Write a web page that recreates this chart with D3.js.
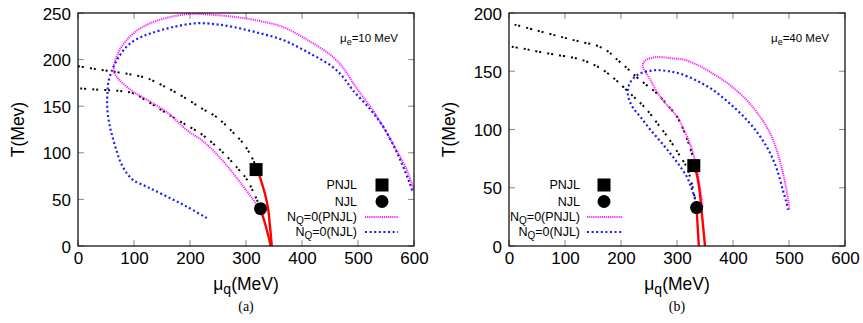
<!DOCTYPE html>
<html>
<head>
<meta charset="utf-8">
<script src="https://cdn.jsdelivr.net/npm/d3@7"></script>
<style>
  html, body { margin: 0; padding: 0; background: #fff; }
  svg { display: block; }
  text { fill: #000; }
</style>
</head>
<body>
<svg id="chart" width="863" height="323"></svg>
<script>
// ---- Panel (a): mu_e = 10 MeV -------------------------------------------
const xTicks = [0, 100, 200, 300, 400, 500, 600];
const yTicksA = [0, 50, 100, 150, 200, 250];
const yTicksB = [0, 50, 100, 150, 200];

// crossover lines (upper: PNJL, lower: NJL), [mu_q, T]
const pnjlCrossA = [[0,193],[30,190],[63,187],[95,184],[123,180],[155,171],[188,160],[220,148],[248,138],[275,123],[295,110],[308,98],[316,88]];
const njlCrossA  = [[4,169],[30,168],[57,167],[80,166],[98,164],[130,153],[159,142],[190,131],[218,121],[245,108],[266,96],[287,82],[302,71],[313,58],[320,49],[324,43]];
// N_Q = 0 contours
const nqPnjlA = [[330,35],[310,52],[295,64],[277,78],[250,97],[222,113],[195,124],[160,143],[123,157],[100,165],[87,171],[74,178],[66,185],[64,192],[66,198],[74,210],[87,221],[105,231],[129,239],[160,245],[200,249],[240,248],[277,246],[320,242],[366,235],[410,221],[455,203],[475,190],[491,175],[504,164],[525,147],[545,128],[562,110],[575,96],[587,82],[596,67],[600,60]];
const nqNjlA  = [[230,30],[195,42],[159,53],[125,63],[98,71],[85,80],[76,90],[70,100],[63,114],[57,128],[53,143],[52,157],[53,167],[54,175],[58,184],[63,192],[73,203],[87,214],[105,222],[129,228],[170,235],[212,239],[245,238],[277,235],[320,229],[366,221],[410,208],[455,192],[475,180],[491,167],[520,148],[545,128],[565,106],[580,86],[592,68],[598,57]];
// first-order boundaries below the endpoints
const redA1 = [[320,82],[327,70],[333,58],[337,48],[340,38],[342,26],[344,14],[346,0]];
const redA2 = [[326,40],[330,32],[335,22],[339,13],[342,6],[344,0]];
const cepA = { pnjl: [318, 82], njl: [326, 40] };

// ---- Panel (b): mu_e = 40 MeV -------------------------------------------
const pnjlCrossB = [[10,190],[50,185],[97,179],[130,175],[157,172],[177,167],[193,160],[210,153],[228,145],[246,138],[264,131],[283,121],[300,111],[313,98],[323,85],[328,77]];
const njlCrossB  = [[5,171],[30,169],[50,167],[85,164],[121,161],[145,157],[168,151],[192,142],[216,131],[232,124],[246,117],[267,104],[287,91],[303,79],[317,68],[324,58],[329,48],[332,40]];
const nqPnjlB = [[346,34],[341,50],[335,68],[329,79],[323,88],[312,100],[300,111],[288,118],[275,125],[262,134],[252,143],[243,150],[239,154],[241,158],[246,160],[260,162],[275,162],[293,161],[312,160],[338,155],[364,148],[395,138],[425,125],[447,112],[466,97],[479,81],[489,63],[496,47],[501,31]];
const nqNjlB  = [[335,37],[327,48],[318,59],[303,70],[287,80],[270,90],[252,100],[236,110],[221,119],[215,125],[212,131],[213,136],[216,140],[224,145],[234,148],[248,150],[264,151],[285,150],[305,148],[335,142],[364,134],[395,122],[425,108],[447,95],[466,80],[479,65],[489,48],[495,38],[498,31]];
const redB1 = [[330,69],[335,62],[339,52],[342,40],[344,30],[346,20],[348,10],[350,0]];
const redB2 = [[335,33],[336,24],[337,16],[338,8],[339,0]];
const cepB = { pnjl: [330, 69], njl: [335, 33] };

const legendLabels = ["PNJL", "NJL", "N_Q=0(PNJL)", "N_Q=0(NJL)"];

const SANS = "'Liberation Sans', Arial, sans-serif";
const SERIF = "'Liberation Serif', 'Times New Roman', serif";
const MAGENTA = "#ff22ff", BLUE = "#1a1aff";
const MAG_DASH = "1.2,0.9", BLUE_DASH = "2,2.6", BLACK_DASH = "2,2,2,6";

const panels = [
  { left: 78,  right: 414, top: 13, bottom: 246, yMax: 250, yTicks: yTicksA,
    pnjlCross: pnjlCrossA, njlCross: njlCrossA, nqPnjl: nqPnjlA, nqNjl: nqNjlA,
    red: [redA1, redA2], cep: cepA, mue: "10", caption: "(a)",
    legend: { textX: 357, symX: 382, lineX0: 365, lineX1: 398, y0: 185 } },
  { left: 509, right: 845, top: 13, bottom: 246, yMax: 200, yTicks: yTicksB,
    pnjlCross: pnjlCrossB, njlCross: njlCrossB, nqPnjl: nqPnjlB, nqNjl: nqNjlB,
    red: [redB1, redB2], cep: cepB, mue: "40", caption: "(b)",
    legend: { textX: 580, symX: 604, lineX0: 587, lineX1: 622, y0: 185 } }
];

const svg = d3.select("#chart").style("font-family", SANS);

panels.forEach(p => {
  const x = d3.scaleLinear().domain([0, 600]).range([p.left, p.right]);
  const y = d3.scaleLinear().domain([0, p.yMax]).range([p.bottom, p.top]);
  const g = svg.append("g");
  const line = d3.line().x(d => x(d[0])).y(d => y(d[1])).curve(d3.curveCatmullRom.alpha(0.5));

  // clip to plot frame
  const clipId = "clip" + p.caption.replace(/\W/g, "");
  svg.append("clipPath").attr("id", clipId).append("rect")
    .attr("x", p.left).attr("y", p.top)
    .attr("width", p.right - p.left).attr("height", p.bottom - p.top);

  // mirrored inward ticks
  const tl = 6;
  const tickG = g.append("g").attr("stroke", "#888").attr("stroke-width", 1);
  xTicks.forEach(t => {
    tickG.append("line").attr("x1", x(t)).attr("x2", x(t)).attr("y1", p.bottom).attr("y2", p.bottom - tl);
    tickG.append("line").attr("x1", x(t)).attr("x2", x(t)).attr("y1", p.top).attr("y2", p.top + tl);
  });
  p.yTicks.forEach(t => {
    tickG.append("line").attr("x1", p.left).attr("x2", p.left + tl).attr("y1", y(t)).attr("y2", y(t));
    tickG.append("line").attr("x1", p.right).attr("x2", p.right - tl).attr("y1", y(t)).attr("y2", y(t));
  });

  // tick labels via d3 axes (lines hidden; labels only)
  const xAxis = g.append("g").attr("transform", `translate(0,${p.bottom})`)
    .call(d3.axisBottom(x).tickValues(xTicks).tickSize(0).tickPadding(6));
  const yAxis = g.append("g").attr("transform", `translate(${p.left},0)`)
    .call(d3.axisLeft(y).tickValues(p.yTicks).tickSize(0).tickPadding(7));
  [xAxis, yAxis].forEach(a => {
    a.attr("font-family", null).attr("font-size", null);
    a.select(".domain").remove();
    a.selectAll("text").style("font-size", "17px").style("font-family", SANS).attr("fill", "#000");
  });
  yAxis.selectAll("text").attr("dy", "0.36em");

  const plot = g.append("g").attr("clip-path", `url(#${clipId})`).attr("fill", "none");

  // crossover (black dotted)
  [p.pnjlCross, p.njlCross].forEach(d => {
    plot.append("path").attr("d", line(d)).attr("stroke", "#000")
      .attr("stroke-width", 2).attr("stroke-dasharray", BLACK_DASH);
  });
  // N_Q=0 (PNJL) magenta fine dots
  plot.append("path").attr("d", line(p.nqPnjl)).attr("stroke", MAGENTA)
    .attr("stroke-width", 2).attr("stroke-dasharray", MAG_DASH);
  // N_Q=0 (NJL) blue dots
  plot.append("path").attr("d", line(p.nqNjl)).attr("stroke", BLUE)
    .attr("stroke-width", 2.2).attr("stroke-dasharray", BLUE_DASH);
  // first-order lines
  p.red.forEach(d => {
    plot.append("path").attr("d", line(d)).attr("stroke", "#ff0000").attr("stroke-width", 2.4);
  });
  // critical end points
  const sq = 13;
  g.append("rect").attr("x", x(p.cep.pnjl[0]) - sq / 2).attr("y", y(p.cep.pnjl[1]) - sq / 2)
    .attr("width", sq).attr("height", sq).attr("fill", "#000");
  g.append("circle").attr("cx", x(p.cep.njl[0])).attr("cy", y(p.cep.njl[1])).attr("r", 6.5).attr("fill", "#000");

  // frame
  g.append("rect").attr("x", p.left).attr("y", p.top).attr("width", p.right - p.left)
    .attr("height", p.bottom - p.top).attr("fill", "none").attr("stroke", "#000").attr("stroke-width", 1.2);

  // mu_e annotation
  const ann = g.append("text").attr("x", p.right - 74).attr("y", 42).style("font-size", "11.5px");
  ann.append("tspan").text("\u03bc");
  ann.append("tspan").style("font-size", "9px").attr("dy", 3).text("e");
  ann.append("tspan").attr("dy", -3).text(`=${p.mue} MeV`);

  // legend
  const L = p.legend;
  const rowY = [L.y0, L.y0 + 16.5, L.y0 + 32, L.y0 + 47];
  const lt = g.append("g").style("font-size", "12.5px").attr("text-anchor", "end");
  lt.append("text").attr("x", L.textX).attr("y", rowY[0]).attr("dy", "0.35em").text(legendLabels[0]);
  lt.append("text").attr("x", L.textX).attr("y", rowY[1]).attr("dy", "0.35em").text(legendLabels[1]);
  [2, 3].forEach(i => {
    const t = lt.append("text").attr("x", L.textX).attr("y", rowY[i]).attr("dy", "0.35em");
    const [base, rest] = legendLabels[i].split("_Q");
    t.append("tspan").text(base);
    t.append("tspan").style("font-size", "10px").attr("dy", 3).text("Q");
    t.append("tspan").attr("dy", -3).text(rest);
  });
  g.append("rect").attr("x", L.symX - sq / 2).attr("y", rowY[0] - sq / 2).attr("width", sq).attr("height", sq).attr("fill", "#000");
  g.append("circle").attr("cx", L.symX).attr("cy", rowY[1]).attr("r", 6.5).attr("fill", "#000");
  g.append("line").attr("x1", L.lineX0).attr("x2", L.lineX1).attr("y1", rowY[2]).attr("y2", rowY[2])
    .attr("stroke", MAGENTA).attr("stroke-width", 2).attr("stroke-dasharray", MAG_DASH);
  g.append("line").attr("x1", L.lineX0).attr("x2", L.lineX1).attr("y1", rowY[3]).attr("y2", rowY[3])
    .attr("stroke", BLUE).attr("stroke-width", 2.2).attr("stroke-dasharray", BLUE_DASH);

  // axis titles
  const cx = (p.left + p.right) / 2;
  const xt = g.append("text").attr("x", cx).attr("y", 290).attr("text-anchor", "middle").style("font-size", "17.5px");
  xt.append("tspan").text("\u03bc");
  xt.append("tspan").style("font-size", "14px").attr("dy", 4).text("q");
  xt.append("tspan").attr("dy", -4).text("(MeV)");
  g.append("text").attr("transform", `translate(${p.left - 54},${(p.top + p.bottom) / 2}) rotate(-90)`)
    .attr("text-anchor", "middle").style("font-size", "17.5px").text("T(Mev)");

  // caption
  g.append("text").attr("x", cx).attr("y", 311).attr("text-anchor", "middle")
    .style("font-family", SERIF).style("font-size", "14px").text(p.caption);
});
</script>
</body>
</html>
